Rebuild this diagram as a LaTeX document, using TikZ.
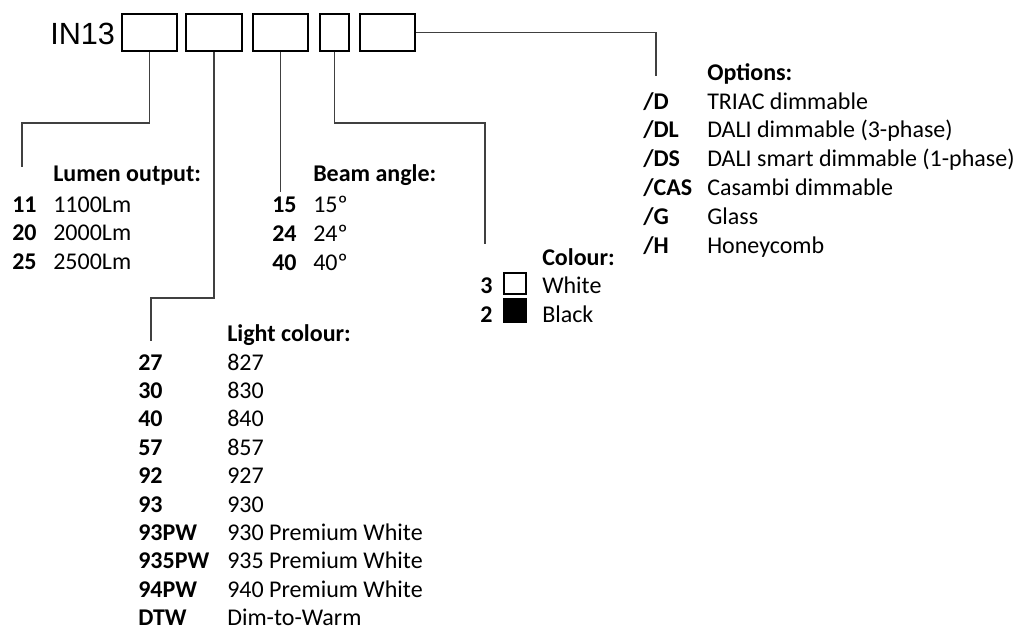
\documentclass[tikz,border=0pt]{standalone}
\usepackage{fontspec}
\setmainfont{Carlito}
\newfontfamily\arialfont{Liberation Sans}
\usetikzlibrary{calc}

\begin{document}
\begin{tikzpicture}[x=0.75pt,y=-0.75pt,
    txt/.style={anchor=base west,inner sep=0pt,font=\fontsize{18pt}{21pt}\selectfont},
    code/.style={txt,font=\fontsize{18pt}{21pt}\selectfont\bfseries},
    box/.style={draw,line width=2pt,inner sep=0pt,minimum height=27.75pt},
    link/.style={line width=0.8pt,black!75}]
  \useasboundingbox (0,0) rectangle (1016,633);

  %% Product code and the boxes for each part of it
  \node[anchor=base west,inner sep=0pt,font=\arialfont\fontsize{23pt}{26pt}\selectfont] (IN) at (50,44) {IN13};
  \foreach \n/\x/\w in {1/149.5/41.25pt,2/214/42pt,3/280.5/41.25pt,4/334.5/21.75pt,5/387.5/41.25pt}
  {
    \node[box,minimum width=\w] (B\n) at (\x,32.5) {};
  }

  %% Lines from the boxes down to the lists
  \coordinate (K1) at (22,123);
  \coordinate (E1) at (22,167);
  \draw[link] (B1.south) |- (K1) -- (E1);
  \coordinate (K2) at (151,298);
  \coordinate (E2) at (151,341);
  \draw[link] (B2.south) |- (K2) -- (E2);
  \coordinate (E3) at ($(B3.south)+(0,139.5)$);
  \draw[link] (B3.south) -- (E3);
  \coordinate (K4) at (485,123);
  \coordinate (E4) at (485,244);
  \draw[link] (B4.south) |- (K4) -- (E4);
  \coordinate (K5) at (656,32.5);
  \coordinate (E5) at (656,76);
  \draw[link] (B5.east) -- (K5) -- (E5);

  %% Lumen output
  \node[code] (LUM) at (53,181) {Lumen output:};
  \foreach \c/\t [count=\i from 0] in {11/1100Lm,20/2000Lm,25/2500Lm}
  {
    \node[code] (LUMc\i) at (12,{212+28.75*\i}) {\c};
    \node[txt] (LUMt\i) at (53,{212+28.75*\i}) {\t};
  }

  %% Beam angle
  \node[code] (BEAM) at (313,181) {Beam angle:};
  \foreach \c/\t [count=\i from 0] in {15/15º,24/24º,40/40º}
  {
    \node[code] (BEAMc\i) at (272,{212.5+28.75*\i}) {\c};
    \node[txt] (BEAMt\i) at (313,{212.5+28.75*\i}) {\t};
  }

  %% Colour
  \node[code] (COL) at (542,265) {Colour:};
  \node[code] (COLc0) at (480,293) {3};
  \node[draw,line width=1.5pt,inner sep=0pt,minimum width=16.5pt,minimum height=15.75pt] (WHITE) at (515,283.5) {};
  \node[txt] (COLt0) at (542,293) {White};
  \node[code] (COLc1) at (480,322) {2};
  \node[fill=black,inner sep=0pt,minimum width=18pt,minimum height=18.75pt] (BLACK) at (515,310.5) {};
  \node[txt] (COLt1) at (542,322) {Black};

  %% Light colour
  \node[code] (LIGHT) at (227,341) {Light colour:};
  \foreach \c/\t [count=\i from 0] in {27/827,30/830,40/840,57/857,92/927,93/930,
      93PW/930 Premium White,935PW/935 Premium White,94PW/940 Premium White,DTW/Dim-to-Warm}
  {
    \node[code] (LIGHTc\i) at (138,{370+28.4*\i}) {\c};
    \node[txt] (LIGHTt\i) at (227,{370+28.4*\i}) {\t};
  }

  %% Options
  \node[code] (OPT) at (707,80) {Options:};
  \foreach \c/\t [count=\i from 0] in {D/TRIAC dimmable,DL/DALI dimmable (3-phase),
      DS/DALI smart dimmable (1-phase),CAS/Casambi dimmable,G/Glass,H/Honeycomb}
  {
    \node[code] (OPTc\i) at (643,{109+28.8*\i}) {/\c};
    \node[txt] (OPTt\i) at (707,{109+28.8*\i}) {\t};
  }

\end{tikzpicture}
\end{document}
